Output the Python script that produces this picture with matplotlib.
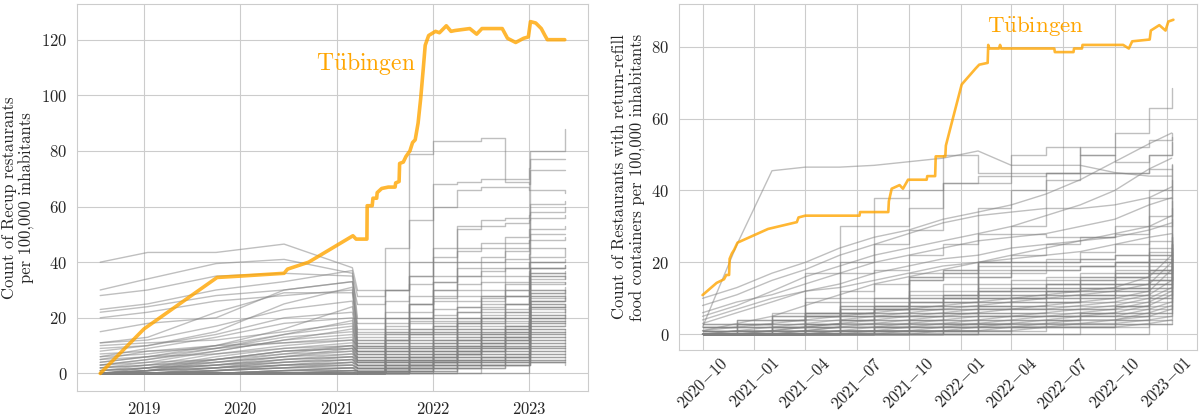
import numpy as np
import pandas as pd
import matplotlib
matplotlib.use('Agg')
import matplotlib.pyplot as plt
import seaborn as sns

# --- data ---

# left panel: Recup restaurants per 100,000 inhabitants
left_dates = ['2018-07-19', '2019-01-15', '2019-10-01', '2020-06-15', '2021-03-01',
              '2021-03-20', '2021-07-01', '2021-10-01', '2022-01-01', '2022-04-01',
              '2022-07-01', '2022-10-01', '2022-12-30', '2023-01-03', '2023-05-15']
left_gray = [
    [40, 43.5, 43.5, 46.5, 38, 30, 30, 32, 33, 35, 37, 38, 40, 45, 45],
    [30, 34, 39.5, 41, 36, 28, 30, 35, 42, 45, 45, 47, 48, 50, 50],
    [0, 0, 0, 0, 0, 0, 45, 79, 83.5, 83.5, 84.5, 70, 74, 77, 77],
    [0, 0, 0, 0, 0, 0, 30, 55, 68, 69, 70, 69, 68, 80, 88],
    [0, 0, 0, 0, 0, 0, 20, 40, 60, 66, 67, 67, 66, 73, 73],
    [0, 0, 0, 0, 0, 0, 15, 35, 45, 53, 55, 56, 57, 66, 65],
    [0, 0, 0, 0, 0, 0, 10, 25, 40, 52, 53, 54, 55, 61, 62],
    [0, 0, 0, 0, 0, 0, 8, 20, 35, 44, 47, 49, 52, 58, 60],
    [0, 0, 0, 0, 0, 0, 5, 15, 30, 40, 42, 45, 48, 56, 57],
    [5, 8, 10, 11, 12, 10, 15, 25, 33, 38, 40, 44, 45, 52, 53],
    [0, 2, 5, 8, 10, 8, 12, 20, 28, 35, 38, 41, 43, 48, 49],
    [22, 24, 28, 30, 33, 25, 26, 28, 30, 32, 35, 38, 40, 42, 45],
    [23, 25, 30, 33, 37, 20, 22, 25, 27, 30, 33, 35, 37, 40, 41],
    [28, 30, 35, 36, 35, 18, 20, 22, 26, 28, 30, 33, 35, 38, 38],
    [20, 22, 26, 28, 30, 15, 18, 20, 23, 26, 28, 30, 33, 36, 36],
    [15, 18, 20, 30, 33, 14, 16, 18, 20, 24, 27, 30, 32, 35, 34],
    [11, 13, 22, 29, 29, 12, 14, 16, 19, 22, 25, 28, 30, 33, 32],
    [11, 12, 17, 23, 26, 10, 12, 14, 17, 20, 22, 25, 27, 30, 30],
    [8, 10, 14, 20, 22, 12, 13, 15, 17, 19, 21, 23, 25, 29, 29],
    [6, 9, 13, 18, 20, 11, 12, 14, 16, 18, 20, 22, 24, 28, 27],
    [10, 11, 12, 15, 18, 9, 11, 13, 15, 17, 19, 21, 22, 26, 26],
    [4, 6, 10, 14, 17, 9, 10, 12, 14, 16, 18, 20, 21, 25, 24],
    [3, 5, 9, 13, 15, 8, 9, 11, 13, 15, 17, 18, 20, 24, 23],
    [2, 4, 8, 12, 14, 8, 9, 10, 12, 14, 16, 17, 19, 23, 22],
    [7, 8, 9, 11, 13, 7, 8, 10, 11, 13, 15, 16, 18, 21, 21],
    [1, 3, 7, 10, 12, 7, 8, 9, 11, 12, 14, 15, 17, 20, 20],
    [0, 2, 6, 9, 11, 6, 7, 8, 10, 12, 13, 14, 16, 19, 19],
    [5, 6, 7, 9, 10, 6, 7, 8, 9, 11, 12, 14, 15, 18, 18],
    [0, 1, 5, 8, 9, 5, 6, 7, 9, 10, 11, 13, 14, 17, 17],
    [3, 4, 5, 7, 8, 5, 6, 7, 8, 9, 11, 12, 13, 16, 16],
    [0, 1, 4, 6, 8, 4, 5, 6, 7, 9, 10, 11, 12, 15, 15],
    [2, 3, 4, 6, 7, 4, 5, 6, 7, 8, 9, 10, 11, 14, 14],
    [0, 1, 3, 5, 6, 3, 4, 5, 6, 7, 8, 9, 10, 13, 13],
    [1, 2, 3, 4, 5, 3, 4, 5, 6, 7, 8, 9, 10, 12, 12],
    [0, 1, 2, 4, 5, 3, 3, 4, 5, 6, 7, 8, 9, 11, 11],
    [0, 0, 2, 3, 4, 2, 3, 4, 5, 6, 6, 7, 8, 10, 10],
    [0, 0, 1, 3, 3, 2, 3, 3, 4, 5, 6, 7, 7, 9, 9],
    [0, 0, 1, 2, 3, 2, 2, 3, 4, 4, 5, 6, 7, 8, 8],
    [0, 0, 1, 2, 2, 1, 2, 3, 3, 4, 5, 5, 6, 7, 7],
    [0, 0, 0, 1, 2, 1, 2, 2, 3, 3, 4, 5, 5, 6, 6],
    [0, 0, 0, 1, 1, 1, 1, 2, 2, 3, 3, 4, 4, 5, 5],
    [0, 0, 0, 0, 1, 1, 1, 1, 2, 2, 3, 3, 4, 4, 4],
    [0, 0, 0, 0, 0, 0, 1, 1, 1, 2, 2, 3, 3, 4, 3],
    [0, 0, 0, 0, 0, 0, 0, 2, 5, 8, 12, 15, 18, 30, 31],
    [0, 0, 0, 0, 0, 0, 0, 5, 10, 15, 20, 25, 28, 38, 39],
    [0, 0, 0, 0, 0, 0, 3, 8, 15, 22, 28, 32, 35, 40, 40],
    [0, 0, 0, 0, 0, 0, 2, 6, 12, 18, 24, 28, 30, 36, 37],
    [0, 0, 0, 0, 0, 0, 1, 4, 8, 12, 16, 20, 22, 34, 35],
    [0, 0, 0, 0, 0, 0, 0, 3, 6, 10, 14, 17, 20, 27, 28],
    [0, 0, 0, 0, 0, 0, 0, 1, 4, 7, 10, 13, 15, 25, 25],
    [0, 0, 0, 0, 0, 0, 0, 0, 2, 5, 8, 11, 13, 22, 23],
    [0, 0, 0, 0, 0, 0, 0, 0, 0, 3, 6, 9, 11, 20, 21],
    [0, 0, 0, 0, 0, 0, 0, 0, 0, 0, 3, 6, 8, 18, 19],
    [0, 0, 0, 0, 0, 0, 0, 0, 0, 0, 0, 0, 3, 15, 16],
    [0, 1, 3, 6, 9, 7, 8, 9, 11, 13, 14, 16, 17, 24, 25],
    [1, 2, 4, 7, 10, 8, 9, 11, 12, 14, 15, 17, 19, 26, 27],
    [0, 1, 2, 5, 7, 6, 7, 9, 10, 12, 13, 15, 16, 21, 22],
    [2, 3, 5, 8, 9, 5, 6, 8, 9, 11, 12, 13, 15, 20, 21],
    [0, 0, 2, 4, 6, 5, 6, 7, 8, 10, 11, 12, 14, 19, 20],
    [1, 2, 3, 5, 6, 4, 5, 6, 8, 9, 10, 12, 13, 17, 18],
    [0, 0, 1, 3, 5, 4, 5, 6, 7, 8, 10, 11, 12, 16, 16],
    [0, 1, 2, 3, 4, 3, 4, 5, 6, 8, 9, 10, 11, 14, 15],
    [0, 0, 1, 2, 4, 3, 4, 5, 6, 7, 8, 9, 10, 13, 14],
    [0, 0, 1, 2, 3, 2, 3, 4, 5, 6, 7, 8, 9, 12, 13],
    [0, 0, 0, 1, 2, 2, 3, 3, 4, 5, 6, 7, 8, 11, 12],
    [0, 0, 0, 1, 2, 2, 2, 3, 4, 5, 5, 6, 7, 10, 11],
    [0, 0, 0, 1, 1, 1, 2, 3, 3, 4, 5, 6, 6, 9, 10],
    [0, 0, 0, 0, 1, 1, 2, 2, 3, 4, 4, 5, 6, 8, 9],
    [0, 0, 0, 0, 1, 1, 1, 2, 3, 3, 4, 4, 5, 7, 8],
    [0, 0, 0, 0, 0, 1, 1, 2, 2, 3, 3, 4, 5, 6, 7],
    [0, 0, 0, 0, 0, 0, 1, 1, 2, 2, 3, 3, 4, 5, 6],
    [0, 0, 0, 0, 0, 0, 0, 1, 1, 2, 2, 3, 3, 4, 5],
    [3, 5, 8, 12, 16, 10, 11, 12, 14, 16, 18, 19, 21, 28, 30],
    [4, 6, 9, 14, 19, 11, 12, 14, 16, 18, 20, 22, 24, 32, 33],
    [6, 7, 10, 16, 24, 13, 14, 16, 18, 20, 23, 25, 27, 35, 36],
    [9, 10, 15, 25, 31, 16, 17, 19, 21, 24, 26, 28, 30, 38, 39],
    [0, 0, 0, 0, 0, 0, 2, 4, 7, 10, 13, 16, 19, 26, 27],
    [0, 0, 0, 0, 0, 0, 0, 2, 4, 7, 9, 12, 14, 24, 24],
    [0, 0, 0, 0, 0, 0, 1, 3, 5, 8, 11, 13, 16, 29, 30],
]
left_tue_dates = ['2018-07-19', '2019-01-01', '2019-10-05', '2020-01-01', '2020-06-15',
                  '2020-06-28', '2020-09-16', '2021-03-03', '2021-03-15', '2021-04-25',
                  '2021-04-26', '2021-05-15', '2021-05-18', '2021-06-01', '2021-06-03',
                  '2021-06-20', '2021-07-15', '2021-08-10', '2021-08-12', '2021-08-25',
                  '2021-08-27', '2021-09-10', '2021-09-20', '2021-10-05', '2021-10-15',
                  '2021-10-25', '2021-11-05', '2021-11-15', '2021-11-25', '2021-12-02',
                  '2021-12-15', '2022-01-10', '2022-01-25', '2022-02-20', '2022-03-10',
                  '2022-03-25', '2022-05-20', '2022-06-15', '2022-07-05', '2022-09-20',
                  '2022-10-10', '2022-11-10', '2022-12-10', '2022-12-28', '2023-01-05',
                  '2023-01-25', '2023-02-15', '2023-03-01', '2023-03-10', '2023-05-15']
left_tue = [0, 16, 34.5, 35, 36, 37.5, 40, 49.5, 48.3, 48.3,
            60.3, 60.3, 63, 63, 65, 66.5, 67, 67, 68.5, 69,
            75.5, 76, 78, 80, 83, 84, 90, 99, 110, 118,
            121.5, 123, 122.5, 125, 123, 123.3, 124, 122, 124, 124,
            120.5, 119, 120.5, 121, 126.5, 126, 124, 121.5, 120, 120]
left_ticks = ['2019-01-01', '2020-01-01', '2021-01-01', '2022-01-01', '2023-01-01']
left_ticklabels = ['2019', '2020', '2021', '2022', '2023']

# right panel: restaurants with return-refill food containers
right_dates = ['2020-10-01', '2020-12-01', '2021-02-01', '2021-04-01', '2021-06-01',
               '2021-08-01', '2021-10-01', '2021-12-01', '2022-02-01', '2022-04-01',
               '2022-06-01', '2022-08-01', '2022-10-01', '2022-12-01', '2023-01-10']
right_ramps = [
    [2, 25, 45.5, 46.5, 46.5, 47, 48, 49, 51, 47, 47, 47, 45, 44, 44],
    [10, 13, 17, 20, 24, 27, 29, 32, 34, 36, 39, 43, 48, 53, 56],
    [8, 11, 15, 18, 22, 25, 28, 31, 33, 34, 35, 35, 36, 38, 41],
    [5, 8, 12, 16, 19, 22, 24, 26, 28, 30, 33, 36, 40, 46, 49],
    [6, 9, 11, 14, 17, 20, 22, 24, 26, 27, 28, 30, 32, 36, 38],
    [3, 6, 9, 12, 14, 17, 19, 21, 22, 24, 25, 26, 28, 30, 33],
    [4, 7, 10, 12, 13, 15, 17, 19, 20, 21, 22, 23, 25, 27, 28],
    [1, 3, 5, 8, 11, 14, 16, 18, 20, 22, 24, 26, 27, 29, 31],
    [0, 1, 2, 3, 4, 5, 6, 7, 8, 9, 10, 11, 12, 14, 20],
    [1, 2, 3, 4, 5, 6, 7, 8, 9, 10, 11, 12, 13, 16, 22],
    [0, 0, 1, 2, 3, 4, 5, 6, 7, 7, 8, 9, 10, 12, 18],
    [0, 1, 1, 2, 3, 3, 4, 5, 6, 7, 7, 8, 9, 11, 15],
    [0, 0, 1, 1, 2, 3, 3, 4, 5, 5, 6, 7, 8, 10, 13],
    [0, 0, 0, 1, 2, 2, 3, 3, 4, 5, 5, 6, 7, 9, 12],
    [0, 0, 0, 1, 1, 2, 2, 3, 3, 4, 5, 5, 6, 8, 11],
    [0, 0, 0, 0, 1, 1, 2, 2, 3, 3, 4, 5, 5, 7, 9],
    [0, 0, 0, 0, 1, 1, 1, 2, 2, 3, 3, 4, 4, 6, 8],
    [0, 0, 0, 0, 0, 1, 1, 1, 2, 2, 3, 3, 4, 5, 7],
    [0, 0, 0, 0, 0, 0, 1, 1, 1, 2, 2, 3, 3, 4, 5],
    [0, 0, 0, 0, 0, 0, 0, 1, 1, 1, 2, 2, 2, 3, 4],
]
right_steps = [
    [0, 0, 0, 0, 0, 0, 0, 0, 35, 40, 45, 50, 56, 63, 68.5],
    [0, 0, 0, 0, 0, 0, 0, 0, 20, 30, 43, 52, 52, 54, 56],
    [0, 0, 0, 0, 30, 38, 40, 50, 45, 50, 52, 50, 48, 50, 55],
    [0, 0, 0, 17, 17, 30, 35, 42, 44, 44, 45, 45, 45, 50, 53.5],
    [0, 0, 0, 0, 20, 25, 29, 42, 42, 45, 45, 45, 45, 46, 47.5],
    [0, 0, 0, 0, 10, 18, 22, 25, 28, 28, 27, 27, 30, 40, 47],
    [0, 0, 0, 0, 0, 5, 17, 18, 20, 22, 25, 27, 28, 38, 46],
    [0, 0, 0, 9, 9, 10, 15, 17, 20, 20, 20, 21, 22, 30, 43],
    [0, 0, 0, 0, 0, 0, 5, 10, 16, 19, 21, 23, 25, 33, 38],
    [2, 3, 6, 10, 12, 14, 16, 18, 19, 20, 20, 21, 22, 26, 37],
    [1, 2, 4, 6, 8, 10, 12, 14, 16, 17, 18, 19, 20, 24, 35],
    [0, 0, 0, 2, 5, 8, 11, 12, 14, 15, 16, 17, 19, 23, 32],
    [1, 2, 3, 5, 6, 8, 9, 11, 12, 13, 14, 15, 17, 22, 28],
    [0, 1, 2, 4, 5, 7, 8, 10, 11, 12, 13, 14, 16, 20, 27],
    [1, 1, 2, 3, 5, 6, 7, 9, 10, 11, 12, 13, 14, 18, 26],
    [0, 1, 2, 3, 4, 5, 7, 8, 9, 10, 11, 12, 13, 17, 25],
    [0, 0, 1, 2, 3, 5, 6, 7, 8, 9, 10, 11, 12, 16, 24],
    [0, 0, 1, 2, 3, 4, 5, 6, 7, 8, 9, 10, 11, 15, 23],
    [0, 0, 1, 1, 2, 3, 4, 5, 6, 7, 8, 9, 10, 14, 22],
    [0, 0, 0, 1, 2, 3, 4, 5, 6, 6, 7, 8, 9, 13, 21],
    [0, 0, 0, 1, 1, 2, 3, 4, 5, 6, 7, 7, 8, 12, 20],
    [0, 0, 0, 1, 1, 2, 3, 4, 4, 5, 6, 7, 8, 11, 19],
    [0, 0, 0, 0, 1, 2, 2, 3, 4, 5, 5, 6, 7, 10, 18],
    [0, 0, 0, 0, 1, 1, 2, 3, 3, 4, 5, 6, 6, 9, 16],
    [0, 0, 0, 0, 1, 1, 2, 2, 3, 4, 4, 5, 6, 8, 14],
    [0, 0, 0, 0, 0, 1, 1, 2, 3, 3, 4, 5, 5, 7, 12],
    [0, 0, 0, 0, 0, 1, 1, 2, 2, 3, 3, 4, 5, 6, 10],
    [0, 0, 0, 0, 0, 1, 1, 1, 2, 2, 3, 3, 4, 5, 8],
    [0, 0, 0, 0, 0, 0, 1, 1, 2, 2, 2, 3, 3, 4, 6],
    [0, 0, 0, 0, 0, 0, 0, 1, 1, 2, 2, 2, 3, 3, 4],
    [0, 0, 0, 0, 0, 0, 0, 1, 1, 1, 2, 2, 2, 3, 3],
    [3, 4, 5, 6, 6, 7, 8, 9, 10, 11, 12, 13, 14, 15, 17],
    [2, 3, 4, 5, 6, 7, 8, 9, 10, 10, 11, 12, 13, 14, 16],
    [0, 0, 0, 5, 6, 7, 16, 17, 18, 18, 19, 19, 20, 21, 22],
    [0, 0, 0, 0, 0, 0, 15, 16, 17, 18, 18, 19, 20, 22, 24],
    [2, 3, 4, 5, 7, 8, 9, 10, 12, 13, 14, 15, 16, 18, 24],
    [1, 2, 3, 5, 6, 7, 9, 10, 11, 12, 13, 14, 15, 17, 21],
    [3, 4, 5, 6, 8, 9, 10, 11, 13, 14, 15, 16, 18, 20, 26],
    [2, 3, 4, 6, 7, 8, 10, 11, 12, 13, 14, 16, 17, 19, 25],
    [0, 1, 2, 3, 4, 6, 7, 8, 9, 10, 12, 13, 14, 17, 23],
    [0, 0, 1, 2, 4, 5, 6, 7, 8, 9, 10, 11, 12, 15, 19],
    [1, 1, 2, 3, 4, 4, 5, 6, 7, 8, 9, 10, 11, 13, 17],
    [0, 0, 0, 0, 0, 2, 4, 6, 8, 10, 12, 14, 16, 20, 27],
    [0, 0, 0, 0, 0, 0, 0, 3, 5, 7, 9, 11, 13, 18, 25],
    [0, 0, 0, 0, 0, 0, 0, 0, 0, 2, 4, 6, 8, 14, 21],
    [0, 0, 0, 0, 0, 0, 0, 0, 0, 0, 0, 2, 4, 10, 18],
    [0, 0, 0, 0, 0, 0, 0, 0, 0, 0, 0, 0, 0, 6, 14],
]
right_tue_dates = ['2020-10-01', '2020-10-26', '2020-11-08', '2020-11-12', '2020-11-17',
                   '2020-11-18', '2020-11-22', '2020-11-26', '2020-12-02', '2021-01-25',
                   '2021-03-17', '2021-03-20', '2021-04-01', '2021-07-06', '2021-07-07',
                   '2021-08-26', '2021-08-27', '2021-09-01', '2021-09-15', '2021-09-21',
                   '2021-09-30', '2021-11-02', '2021-11-03', '2021-11-17', '2021-11-18',
                   '2021-12-05', '2021-12-06', '2021-12-15', '2022-01-03', '2022-01-28',
                   '2022-02-03', '2022-02-18', '2022-02-19', '2022-02-21', '2022-03-10',
                   '2022-03-12', '2022-03-14', '2022-06-16', '2022-06-17', '2022-07-20',
                   '2022-07-21', '2022-08-04', '2022-08-05', '2022-10-16', '2022-10-26',
                   '2022-11-01', '2022-12-02', '2022-12-04', '2022-12-19', '2022-12-30',
                   '2023-01-04', '2023-01-13']
right_tue = [10.9, 14.3, 15.3, 16.5, 16.5,
             21, 22.5, 23.5, 25.5, 29.3,
             31.2, 32.5, 33, 33, 34,
             34, 37, 40.5, 41.5, 40.5,
             43, 43, 44, 44, 49.5,
             49.5, 52.5, 58, 69.5, 74,
             75, 75.5, 80.5, 79.5, 79.5,
             80.5, 79.5, 79.5, 78.5, 78.5,
             79.5, 79.5, 80.5, 80.5, 79.5,
             81.5, 82, 84.5, 86, 84.5,
             87, 87.5]
right_ticks = ['2020-10-01', '2021-01-01', '2021-04-01', '2021-07-01', '2021-10-01',
               '2022-01-01', '2022-04-01', '2022-07-01', '2022-10-01', '2023-01-01']
right_ticklabels = ['2020-10', '2021-01', '2021-04', '2021-07', '2021-10',
                    '2022-01', '2022-04', '2022-07', '2022-10', '2023-01']

# --- style ---
sns.set_style('whitegrid')
plt.rcParams['font.family'] = 'serif'
plt.rcParams['font.serif'] = ['cmr10']
plt.rcParams['mathtext.fontset'] = 'cm'
plt.rcParams['axes.formatter.use_mathtext'] = True
plt.rcParams['axes.unicode_minus'] = True

GRAY = '#808080'
ORANGE = 'orange'
FS = 12
LW = 1.0


def mlabel(s):
    # math-mode label, with the dash as an unspaced minus like the LaTeX original
    return r'$\mathdefault{%s}$' % s.replace('-', '{-}')


fig = plt.figure(figsize=(11.99, 4.15), dpi=100)
ax1 = fig.add_axes([0.0642, 0.0578, 0.4262, 0.9325])
ax2 = fig.add_axes([0.5663, 0.1566, 0.4320, 0.8337])

# left panel: sparse linear data up to early 2021, step data afterwards
ld = pd.to_datetime(left_dates)
for row in left_gray:
    ax1.plot(ld[:6], row[:6], color=GRAY, lw=LW, alpha=0.5)
    ax1.plot(ld[5:], row[5:], color=GRAY, lw=LW, alpha=0.5, drawstyle='steps-post')
ax1.plot(pd.to_datetime(left_tue_dates), left_tue, color=ORANGE, lw=2.6, alpha=0.8, zorder=5)
ax1.text(pd.Timestamp('2021-04-20'), 111.5, r'$\mathrm{T\ddot{u}bingen}$',
         color=ORANGE, fontsize=17, ha='center', va='center')
ax1.set_xticks(pd.to_datetime(left_ticks))
ax1.set_xticklabels([mlabel(s) for s in left_ticklabels])
ax1.set_ylabel('Count of Recup restaurants\nper 100,000 inhabitants', fontsize=FS)

# right panel
rd = pd.to_datetime(right_dates)
for row in right_ramps:
    ax2.plot(rd, row, color=GRAY, lw=LW, alpha=0.5)
for row in right_steps:
    ax2.plot(rd, row, color=GRAY, lw=LW, alpha=0.5, drawstyle='steps-post')
ax2.plot(pd.to_datetime(right_tue_dates), right_tue, color=ORANGE, lw=1.9, alpha=0.8, zorder=5)
ax2.text(pd.Timestamp('2022-05-13'), 85.7, r'$\mathrm{T\ddot{u}bingen}$',
         color=ORANGE, fontsize=16.5, ha='center', va='center')
ax2.set_xticks(pd.to_datetime(right_ticks))
ax2.set_xticklabels([mlabel(s) for s in right_ticklabels], rotation=45, ha='center')
ax2.set_ylabel('Count of Restaurants with return-refill\nfood containers per 100,000 inhabitants',
               fontsize=FS)

for ax in (ax1, ax2):
    ax.tick_params(labelsize=FS, colors='.15')
ax2.tick_params(axis='x', pad=0)

fig.savefig('out.png', dpi=100)
